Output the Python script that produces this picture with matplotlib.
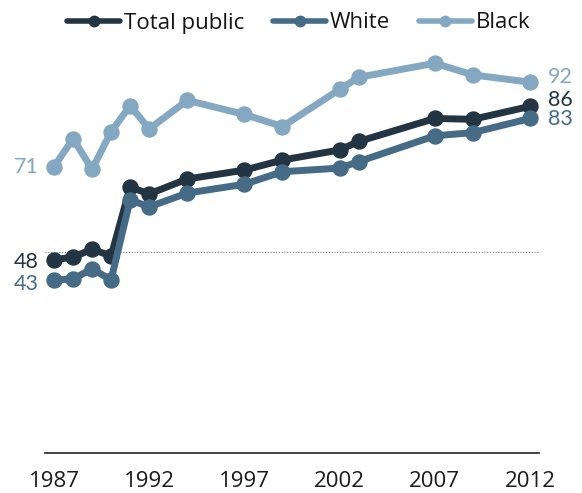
import matplotlib
matplotlib.use("Agg")
import matplotlib.pyplot as plt
from matplotlib.lines import Line2D

years = [1987, 1988, 1989, 1990, 1991, 1992, 1994, 1997, 1999, 2002, 2003, 2007, 2009, 2012]
total_public = [48, 48.6, 50.6, 48.9, 66, 64.3, 68, 70.2, 72.7, 75.2, 77.3, 83, 82.8, 86]
white = [43, 43.2, 45.7, 43, 62.8, 61.1, 64.5, 66.7, 69.8, 70.7, 72.3, 78.7, 79.5, 83]
black = [71, 78, 70.4, 79.7, 86.2, 80.4, 87.5, 84, 81, 90.2, 93.2, 96.7, 93.8, 92]
series_names = ["Total public", "White", "Black"]
xtick_years = [1987, 1992, 1997, 2002, 2007, 2012]

colors = ["#233442", "#466b86", "#85a8c2"]

fig = plt.figure(figsize=(5.82, 4.93), dpi=100)
ax = fig.add_axes([45/582, (493-453.3)/493, 494/582, (453.3-49.9)/493])

ax.axhline(50, color="#777777", lw=0.8, ls=(0, (1, 1.5)), zorder=1)

for vals, col in zip([total_public, white, black], colors):
    ax.plot(years, vals, color=col, lw=5, marker="o", ms=10.8,
            solid_joinstyle="round", solid_capstyle="round", zorder=3)

ax.set_xlim(1986.53, 2012.47)
ax.set_ylim(0, 100)
ax.set_xticks(xtick_years)
ax.set_xticklabels([str(y) for y in xtick_years], fontfamily="Open Sans", fontsize=16, color="#1a1a1a")
ax.set_yticks([])
ax.tick_params(axis="x", length=0, pad=12.5)
for s in ["top", "left", "right"]:
    ax.spines[s].set_visible(False)
ax.spines["bottom"].set_color("#222222")
ax.spines["bottom"].set_linewidth(1.2)

# start labels
start_offsets = [(-11, -1.5), (-11, -3), (-11, 0)]
for vals, col, off in zip([total_public, white, black], colors, start_offsets):
    ax.annotate(f"{round(vals[0])}", xy=(years[0], vals[0]), xytext=off,
                textcoords="offset points", ha="right", va="center",
                fontfamily="Lato", fontsize=15.5, color=col)
# end labels
end_offsets = [(13, 4.5), (13, -0.5), (13, 4)]
for vals, col, off in zip([total_public, white, black], colors, end_offsets):
    ax.annotate(f"{round(vals[-1])}", xy=(years[-1], vals[-1]), xytext=off,
                textcoords="offset points", ha="left", va="center",
                fontfamily="Lato", fontsize=15.5, color=col)

handles = [Line2D([0], [0], color=c, lw=4, marker="o", ms=7.5, solid_capstyle="round")
           for c in colors]
leg = fig.legend(handles, series_names, loc="center", bbox_to_anchor=(0.513, (493-23)/493),
                 ncol=3, frameon=False, handlelength=2.4, handletextpad=0.15,
                 columnspacing=1.3, borderpad=0,
                 prop={"family": "Open Sans", "size": 16})
for t in leg.get_texts():
    t.set_color("#151515")

fig.savefig("out.png", dpi=100)
